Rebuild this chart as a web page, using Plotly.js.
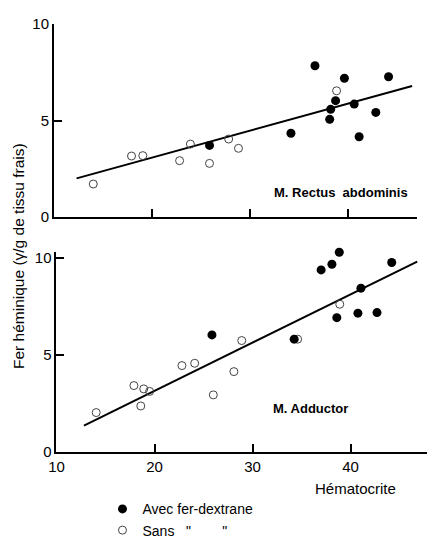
<!DOCTYPE html>
<html>
<head>
<meta charset="utf-8">
<script src="https://cdn.plot.ly/plotly-3.0.1.min.js"></script>
<style>html,body{margin:0;padding:0;background:#fff;}#chart{width:427px;height:542px;}</style>
</head>
<body>
<div id="chart"></div>
<script>
// M. Rectus abdominis (top panel)
const rectusFilledX = [25.85, 34.15, 36.6, 38.1, 38.2, 38.7, 39.6, 40.6, 41.1, 42.8, 44.1];
const rectusFilledY = [3.71, 4.34, 7.84, 5.06, 5.58, 6.03, 7.19, 5.85, 4.16, 5.42, 7.27];
const rectusOpenX = [14.0, 17.9, 19.05, 22.8, 23.9, 25.85, 27.8, 28.8, 38.8];
const rectusOpenY = [1.71, 3.16, 3.18, 2.92, 3.78, 2.78, 4.04, 3.56, 6.54];
const rectusLineX = [12.3, 46.5];
const rectusLineY = [2.0, 6.79];

// M. Adductor (bottom panel)
const adductFilledX = [25.86, 34.25, 37.0, 38.1, 38.85, 38.6, 40.75, 41.06, 42.7, 44.2];
const adductFilledY = [6.03, 5.81, 9.38, 9.67, 10.29, 6.92, 7.15, 8.44, 7.18, 9.76];
const adductOpenX = [14.05, 17.9, 18.9, 19.5, 18.6, 22.8, 24.1, 26.0, 28.1, 28.9, 34.6, 38.9];
const adductOpenY = [2.03, 3.42, 3.25, 3.12, 2.37, 4.45, 4.57, 2.94, 4.14, 5.74, 5.81, 7.61];
const adductLineX = [12.8, 46.8];
const adductLineY = [1.36, 9.81];

const yTicks = [0, 5, 10];
const xTicksTop = [20, 30, 40];
const xTicksBottom = [10, 20, 30, 40];

const legendFilled = 'Avec fer-dextrane';
const legendOpen = 'Sans\u00a0\u00a0\u00a0"\u00a0\u00a0\u00a0\u00a0\u00a0\u00a0\u00a0\u00a0"';

const FONT = 'Liberation Sans, Arial, sans-serif';
const filledMarker = {symbol: 'circle', size: 9, color: '#000'};
const openMarker = {symbol: 'circle-open', size: 8, color: '#444', line: {width: 1, color: '#444'}};
const lineStyle = {color: '#000', width: 2};

const traces = [
  {x: rectusLineX, y: rectusLineY, mode: 'lines', line: lineStyle, xaxis: 'x', yaxis: 'y', showlegend: false, hoverinfo: 'skip'},
  {x: rectusOpenX, y: rectusOpenY, mode: 'markers', marker: openMarker, xaxis: 'x', yaxis: 'y', showlegend: false, cliponaxis: false},
  {x: rectusFilledX, y: rectusFilledY, mode: 'markers', marker: filledMarker, xaxis: 'x', yaxis: 'y', showlegend: false, cliponaxis: false},
  {x: adductLineX, y: adductLineY, mode: 'lines', line: lineStyle, xaxis: 'x2', yaxis: 'y2', showlegend: false, hoverinfo: 'skip'},
  {x: adductOpenX, y: adductOpenY, mode: 'markers', marker: openMarker, xaxis: 'x2', yaxis: 'y2', name: legendOpen, legendrank: 2, cliponaxis: false},
  {x: adductFilledX, y: adductFilledY, mode: 'markers', marker: filledMarker, xaxis: 'x2', yaxis: 'y2', name: legendFilled, legendrank: 1, cliponaxis: false}
];

const axisCommon = {
  showline: true, linecolor: '#000', linewidth: 2,
  ticks: 'inside', ticklen: 8, tickwidth: 2, tickcolor: '#000',
  showgrid: false, zeroline: false, automargin: false,
  tickfont: {family: FONT, size: 15, color: '#000'}
};

function label(text, cx, cy, size, bold, angle) {
  return {
    text: text, x: cx / 427, y: 1 - cy / 542, xref: 'paper', yref: 'paper',
    xanchor: 'center', yanchor: 'middle', showarrow: false, textangle: angle || 0,
    font: {family: FONT, size: size, color: '#000', weight: bold ? 'bold' : 'normal'}
  };
}

const layout = {
  width: 427, height: 542,
  margin: {l: 0, r: 0, t: 0, b: 0, autoexpand: false},
  paper_bgcolor: '#fff', plot_bgcolor: '#fff',
  font: {family: FONT, color: '#000'},
  xaxis: Object.assign({}, axisCommon, {domain: [0.1265, 0.9766], range: [10, 47], tickvals: xTicksTop, showticklabels: false, anchor: 'y'}),
  yaxis: Object.assign({}, axisCommon, {domain: [0.5996, 0.9557], range: [0, 10], tickvals: yTicks, anchor: 'x'}),
  xaxis2: Object.assign({}, axisCommon, {domain: [0.1323, 1.0], range: [10, 47.8], tickvals: xTicksBottom, anchor: 'y2'}),
  yaxis2: Object.assign({}, axisCommon, {domain: [0.1661, 0.535], range: [0, 10.3], tickvals: yTicks, anchor: 'x2'}),
  showlegend: true,
  legend: {
    x: 0.24, y: -0.008, xanchor: 'left', yanchor: 'bottom',
    font: {family: FONT, size: 14, color: '#000'},
    bgcolor: 'rgba(0,0,0,0)', tracegroupgap: 0, itemwidth: 30
  },
  annotations: [
    label('M. Rectus  abdominis', 341, 192, 13, true),
    label('M. Adductor', 310, 408, 13, true),
    label('Hématocrite', 355, 488, 15, false),
    label('Fer héminique (γ/g de tissu frais)', 18, 256, 15.5, false, -90)
  ]
};

Plotly.newPlot('chart', traces, layout, {displayModeBar: false, staticPlot: true});
</script>
</body>
</html>
